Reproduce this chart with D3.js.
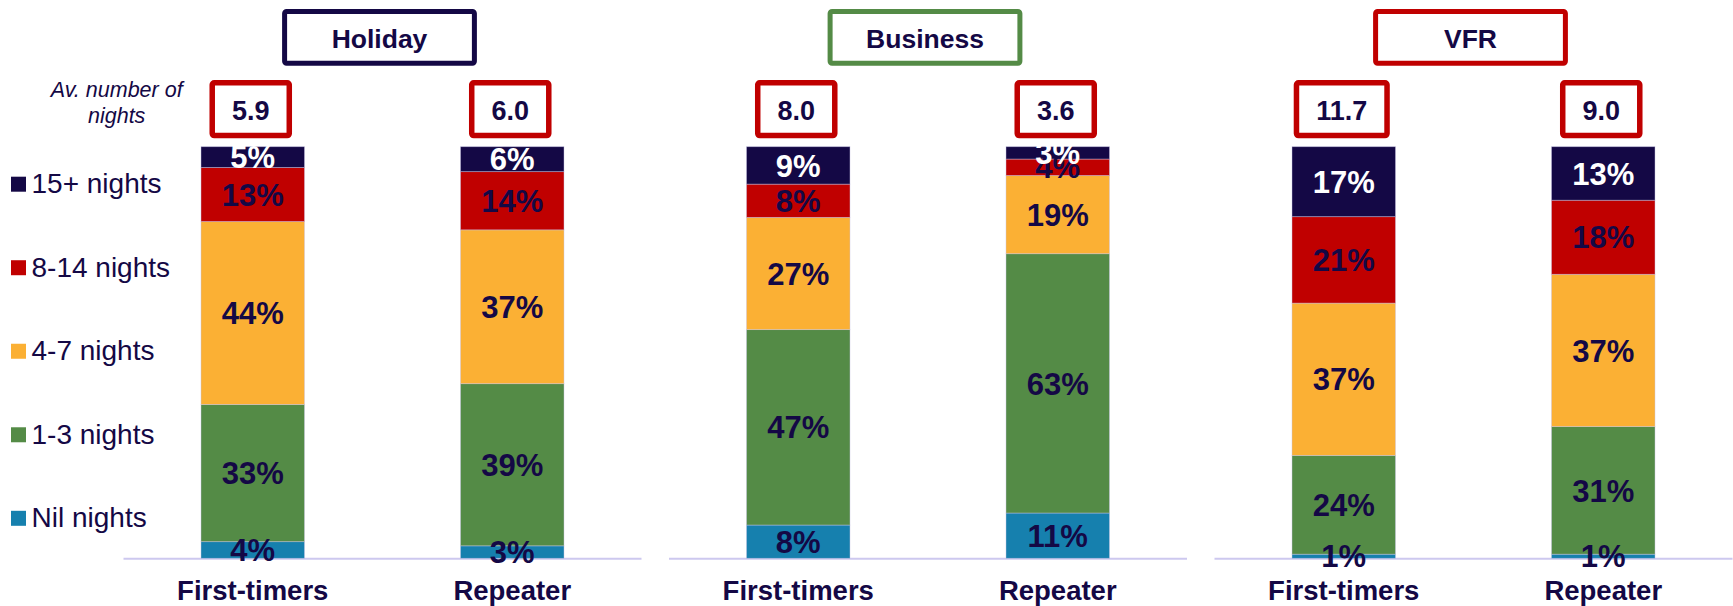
<!DOCTYPE html>
<html>
<head>
<meta charset="utf-8">
<script src="https://cdn.jsdelivr.net/npm/d3@7"></script>
<style>
  html, body { margin: 0; padding: 0; background: #fff; }
  svg { display: block; font-family: "Liberation Sans", Arial, sans-serif; }
</style>
</head>
<body>
<svg id="chart" width="1733" height="606"></svg>
<script>
// Trip purposes (panels) and visitor groups (bars within each panel)
const purposes = ["Holiday", "Business", "VFR"];
const groups = ["First-timers", "Repeater"];
const seriesNames = ["Nil nights", "1-3 nights", "4-7 nights", "8-14 nights", "15+ nights"];

// Shares per bar, in order: Holiday FT, Holiday Rep, Business FT, Business Rep, VFR FT, VFR Rep
const nilNights      = [4, 3, 8, 11, 1, 1];
const oneToThree     = [33, 39, 47, 63, 24, 31];
const fourToSeven    = [44, 37, 27, 19, 37, 37];
const eightToFourteen = [13, 14, 8, 4, 21, 18];
const fifteenPlus    = [5, 6, 9, 3, 17, 13];

// Average number of nights per bar
const avgNights = [5.9, 6.0, 8.0, 3.6, 11.7, 9.0];

const seriesValues = [nilNights, oneToThree, fourToSeven, eightToFourteen, fifteenPlus];
const seriesColors = ["#1680ae", "#548b46", "#fbb034", "#c00000", "#140845"];
const navy = "#140845";
const purposeBorder = ["#140845", "#548b46", "#c00000"];

// Build one row per bar for the stack layout
const rows = [];
purposes.forEach((p, pi) => {
  groups.forEach((g, gi) => {
    const idx = pi * groups.length + gi;
    const row = { purpose: p, group: g, idx };
    seriesNames.forEach((s, si) => { row[s] = seriesValues[si][idx]; });
    rows.push(row);
  });
});

const stacked = d3.stack()
  .keys(seriesNames)
  .offset(d3.stackOffsetExpand)(rows);

const svg = d3.select("#chart");

// Layout scales
const panelX = d3.scaleBand().domain(purposes).range([109.75, 1746.25]);
const inner = d3.scalePoint().domain(groups).range([-259.5, 259.5]).padding(0.5);
const barW = 103.5;
const y = d3.scaleLinear().domain([0, 1]).range([558.3, 146.7]);

const panelCenter = p => panelX(p) + panelX.bandwidth() / 2;
const barCenter = r => panelCenter(r.purpose) + inner(r.group);

// Baseline under each panel
svg.append("g").selectAll("line")
  .data(purposes)
  .join("line")
  .attr("x1", p => panelCenter(p) - 259)
  .attr("x2", p => panelCenter(p) + 259)
  .attr("y1", y(0) + 0.5)
  .attr("y2", y(0) + 0.5)
  .attr("stroke", "#cdc8ef")
  .attr("stroke-width", 2);

// Stacked bar segments
const layers = svg.append("g").selectAll("g")
  .data(stacked)
  .join("g")
  .attr("fill", (d, i) => seriesColors[i]);

layers.selectAll("rect")
  .data(d => d)
  .join("rect")
  .attr("x", d => barCenter(d.data) - barW / 2)
  .attr("width", barW)
  .attr("y", d => y(d[1]))
  .attr("height", d => y(d[0]) - y(d[1]))
  .attr("stroke", "rgba(200,196,230,0.55)")
  .attr("stroke-width", 0.8);

// Percentage labels centred in each segment
const labelG = svg.append("g")
  .attr("font-weight", "bold")
  .attr("font-size", 31)
  .attr("text-anchor", "middle");

stacked.forEach((layer, si) => {
  labelG.selectAll(null)
    .data(layer)
    .join("text")
    .attr("x", d => barCenter(d.data))
    .attr("y", d => y((d[0] + d[1]) / 2))
    .attr("dy", "0.36em")
    .attr("fill", si === seriesNames.length - 1 ? "#ffffff" : navy)
    .text(d => d.data[layer.key] + "%");
});

// Group labels under the bars
svg.append("g")
  .attr("font-weight", "bold")
  .attr("font-size", 27.5)
  .attr("text-anchor", "middle")
  .attr("fill", navy)
  .selectAll("text")
  .data(rows)
  .join("text")
  .attr("x", r => barCenter(r))
  .attr("y", 600)
  .text(r => r.group);

// Purpose title boxes
const titles = svg.append("g").selectAll("g")
  .data(purposes)
  .join("g")
  .attr("transform", p => `translate(${panelCenter(p) - 3},0)`);

titles.append("rect")
  .attr("x", -94.9)
  .attr("y", 11.5)
  .attr("width", 189.8)
  .attr("height", 51.7)
  .attr("rx", 2)
  .attr("fill", "#fff")
  .attr("stroke", (p, i) => purposeBorder[i])
  .attr("stroke-width", 5);

titles.append("text")
  .attr("y", 47.5)
  .attr("text-anchor", "middle")
  .attr("font-weight", "bold")
  .attr("font-size", 26.5)
  .attr("fill", navy)
  .text(p => p);

// Average nights boxes above each bar
const avgG = svg.append("g").selectAll("g")
  .data(rows)
  .join("g")
  .attr("transform", r => `translate(${barCenter(r) - 2},0)`);

avgG.append("rect")
  .attr("y", 82.75)
  .attr("height", 52.8)
  .attr("rx", 2)
  .attr("fill", "#fff")
  .attr("stroke", "#c00000")
  .attr("stroke-width", 5.5);

const avgText = avgG.append("text")
  .attr("y", 120)
  .attr("text-anchor", "middle")
  .attr("font-weight", "bold")
  .attr("font-size", 27)
  .attr("fill", navy)
  .text(r => d3.format(".1f")(avgNights[r.idx]));

avgText.each(function () {
  const w = this.getComputedTextLength() + 39.5;
  d3.select(this.parentNode).select("rect")
    .attr("x", -w / 2)
    .attr("width", w);
});

// Row caption for the average boxes
const cap = svg.append("text")
  .attr("text-anchor", "middle")
  .attr("font-style", "italic")
  .attr("font-size", 21.5)
  .attr("fill", navy);
cap.append("tspan").attr("x", 116.7).attr("y", 97.3).text("Av. number of");
cap.append("tspan").attr("x", 116.7).attr("y", 122.7).text("nights");

// Legend, top entry is the longest stay
const legendOrder = seriesNames.slice().reverse();
const legendY = d3.scalePoint().domain(legendOrder).range([184.2, 518.3]);
const legend = svg.append("g").selectAll("g")
  .data(legendOrder)
  .join("g")
  .attr("transform", s => `translate(0,${legendY(s)})`);

legend.append("rect")
  .attr("x", 11)
  .attr("y", -7.5)
  .attr("width", 15)
  .attr("height", 15)
  .attr("fill", s => seriesColors[seriesNames.indexOf(s)]);

legend.append("text")
  .attr("x", 31.5)
  .attr("y", 9)
  .attr("font-size", 28)
  .attr("fill", navy)
  .text(s => s);
</script>
</body>
</html>
